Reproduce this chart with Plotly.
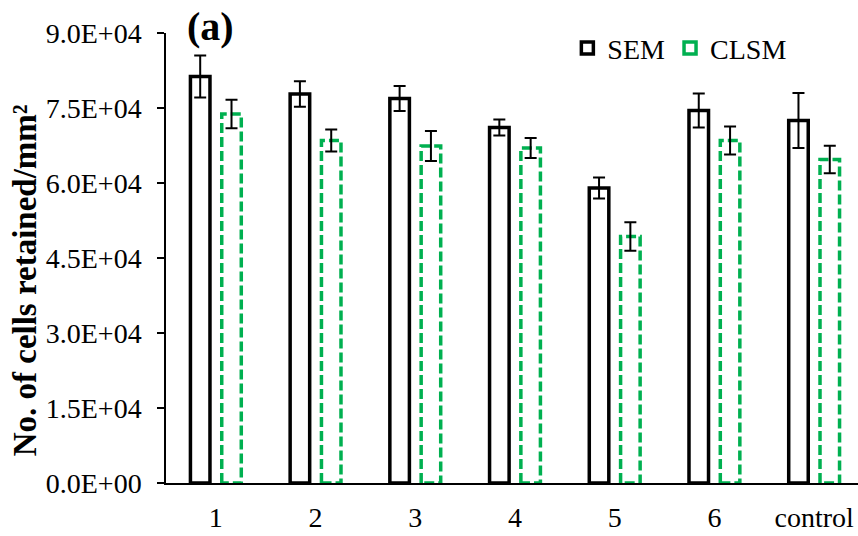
import plotly.graph_objects as go

categories = ["1", "2", "3", "4", "5", "6", "control"]
sem_values = [81300, 77800, 76900, 71100, 59000, 74500, 72500]
sem_errors = [4200, 2550, 2500, 1600, 2100, 3400, 5500]
clsm_values = [73800, 68500, 67400, 67000, 49300, 68500, 64700]
clsm_errors = [2850, 2200, 3000, 2000, 2850, 2800, 2750]
y_ticks = [0, 15000, 30000, 45000, 60000, 75000, 90000]
y_tick_labels = ["0.0E+00", "1.5E+04", "3.0E+04", "4.5E+04", "6.0E+04", "7.5E+04", "9.0E+04"]

FONT = "Liberation Serif"
GREEN = "#00B050"
BAR_W = 0.196
OFF = 0.157

idx = list(range(len(categories)))

fig = go.Figure()

# SEM bars
fig.add_trace(go.Bar(
    x=idx, y=sem_values, name="SEM",
    width=BAR_W, offset=-OFF - BAR_W / 2,
    marker=dict(color="white", line=dict(color="black", width=3.5)),
    error_y=dict(type="data", array=sem_errors, color="black", thickness=2, width=6),
    showlegend=True,
))

# CLSM bars (fill only; dashed outline drawn below)
fig.add_trace(go.Bar(
    x=idx, y=clsm_values, name="CLSM",
    width=BAR_W, offset=OFF - BAR_W / 2,
    marker=dict(color="white", line=dict(color=GREEN, width=0)),
    showlegend=False,
))

# dashed outline for CLSM bars, derived from the data
ox, oy = [], []
for i, v in zip(idx, clsm_values):
    x0 = i + OFF - BAR_W / 2
    x1 = i + OFF + BAR_W / 2
    ox += [x0, x0, x1, x1, x0, None]
    oy += [0, v, v, 0, 0, None]
fig.add_trace(go.Scatter(
    x=ox, y=oy, mode="lines", showlegend=False, hoverinfo="skip",
    line=dict(color=GREEN, width=3.5, dash="10px,4px"),
    cliponaxis=False,
))

# CLSM error bars
fig.add_trace(go.Scatter(
    x=[i + OFF for i in idx], y=clsm_values, mode="markers",
    marker=dict(size=0.1, color="rgba(0,0,0,0)"), showlegend=False,
    error_y=dict(type="data", array=clsm_errors, color="black", thickness=2, width=6),
))

# legend entry for CLSM
fig.add_trace(go.Bar(
    x=[None], y=[None], name="CLSM",
    marker=dict(color="white", line=dict(color=GREEN, width=3.5)),
    showlegend=True,
))

fig.update_layout(
    width=858, height=536,
    margin=dict(l=166, r=0, t=33, b=53),
    paper_bgcolor="white", plot_bgcolor="white",
    barmode="overlay",
    font=dict(family=FONT, size=28, color="black"),
    showlegend=True,
    legend=dict(orientation="h", x=0.58, y=0.966, xanchor="left", yanchor="middle",
                font=dict(family=FONT, size=28, color="black"),
                bgcolor="rgba(0,0,0,0)", itemwidth=30, traceorder="normal"),
    xaxis=dict(
        range=[-0.5, 6.44], tickmode="array", tickvals=idx, ticktext=categories,
        showgrid=False, zeroline=False, showline=True, linecolor="black", linewidth=1.5,
        ticks="", ticklabelstandoff=9, automargin=False,
        tickfont=dict(family=FONT, size=28, color="black"),
    ),
    yaxis=dict(
        range=[0, 90000], tickmode="array", tickvals=y_ticks, ticktext=y_tick_labels,
        showgrid=False, zeroline=False, showline=True, linecolor="black", linewidth=1.5,
        ticks="outside", ticklen=7, tickwidth=1.5, tickcolor="black",
        ticklabelstandoff=10, automargin=False,
        tickfont=dict(family=FONT, size=28, color="black"),
    ),
    annotations=[
        dict(text="<b>No. of cells retained/mm²</b>", textangle=-90,
             xref="paper", yref="paper", x=-0.204, y=0.45,
             xanchor="center", yanchor="middle", showarrow=False,
             font=dict(family=FONT, size=33, color="black")),
        dict(text="<b>(a)</b>", xref="paper", yref="paper", x=0.028, y=1.015,
             xanchor="left", yanchor="middle", showarrow=False,
             font=dict(family=FONT, size=40, color="black")),
    ],
)

fig.write_html("out.html")
